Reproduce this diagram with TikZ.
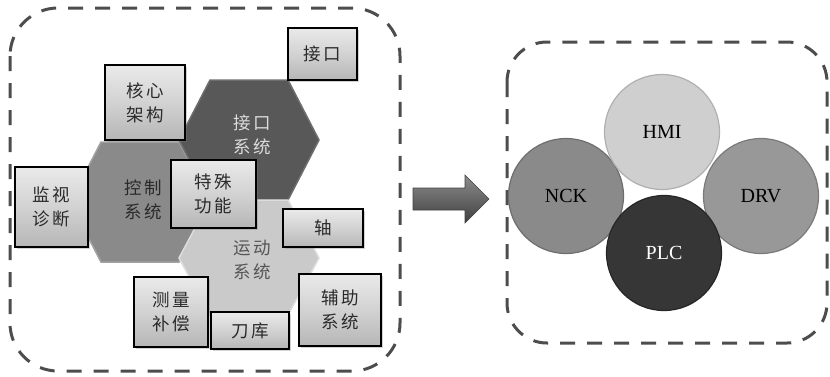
\documentclass[tikz,border=0pt]{standalone}
\usepackage{fontspec}
\setmainfont{Liberation Serif}
\newfontfamily\cjk{Noto Sans CJK SC}[LetterSpace=14]
\usetikzlibrary{shadows}
\definecolor{dashc}{HTML}{4D4D4D}
\definecolor{hexdark}{HTML}{585858}
\definecolor{hexdarkedge}{HTML}{6E6E6E}
\definecolor{hexmid}{HTML}{8A8A8A}
\definecolor{hexmidedge}{HTML}{A2A2A2}
\definecolor{hexlight}{HTML}{CACACA}
\definecolor{hexlightedge}{HTML}{DDDDDD}
\definecolor{boxtop}{HTML}{EAEAEA}
\definecolor{boxmid}{HTML}{D2D2D2}
\definecolor{boxbot}{HTML}{B6B6B6}
\definecolor{txtdark}{HTML}{2A2A2A}
\definecolor{txtlight}{HTML}{DCDCDC}
\definecolor{chmi}{HTML}{CFCFCF}
\definecolor{cnck}{HTML}{8A8A8A}
\definecolor{cdrv}{HTML}{989898}
\definecolor{cplc}{HTML}{363636}
\definecolor{arrtop}{HTML}{8C8C8C}
\definecolor{arrbot}{HTML}{404040}
\tikzset{
  dashframe/.style={draw=dashc, line width=3pt, dash pattern=on 15pt off 12pt},
  cbox/.style={draw=black, line width=1.4pt, top color=boxtop, bottom color=boxbot,
    middle color=boxmid, inner sep=0pt, align=center, text=txtdark,
    font=\cjk\fontsize{17.5}{24}\selectfont,
    drop shadow={shadow xshift=1.5pt, shadow yshift=-1.5pt, opacity=0.35}},
  hexA/.style={fill=hexdark, draw=hexdarkedge, line width=1.5pt},
  hexB/.style={fill=hexmid, draw=hexmidedge, line width=1.5pt},
  hexC/.style={fill=hexlight, draw=hexlightedge, line width=1.5pt},
  hextext/.style={align=center, inner sep=0pt, font=\cjk\fontsize{17.5}{24}\selectfont},
  ball/.style={circle, inner sep=0pt, minimum size=115pt, line width=1.2pt,
    font=\fontsize{20}{24}\selectfont},
}
\begin{document}
\begin{tikzpicture}[x=1pt, y=-1pt]
\useasboundingbox (0,0) rectangle (830,376);
% frames
\draw[dashframe, rounded corners=48pt] (10,8) rectangle (400,371);
\draw[dashframe, rounded corners=40pt] (507,42) rectangle (827,343);
% hexagons
\draw[hexB] (140,202) ++(-70,0) -- ++(31,-60) -- ++(78,0) -- ++(31,60) -- ++(-31,60) -- ++(-78,0) -- cycle;
\draw[hexA] (249,140) ++(-70,0) -- ++(31,-60) -- ++(78,0) -- ++(31,60) -- ++(-31,60) -- ++(-78,0) -- cycle;
\draw[hexC] (249,258) ++(-70,0) -- ++(31,-58) -- ++(78,0) -- ++(31,58) -- ++(-31,57) -- ++(-78,0) -- cycle;
\node[hextext, text=txtlight] (jkxt) at (252,135) {接口\\系统};
\node[hextext, text=txtdark] (kzxt) at (143,200) {控制\\系统};
\node[hextext, text=txtdark!80] (ydxt) at (252,260) {运动\\系统};
% boxes
\node[cbox, minimum width=69pt, minimum height=52pt] (jk) at (322.5,54) {接口};
\node[cbox, minimum width=80pt, minimum height=75pt] (hx) at (145,102.5) {核心\\架构};
\node[cbox, minimum width=73pt, minimum height=80pt] (js) at (51.5,207) {监视\\诊断};
\node[cbox, minimum width=85pt, minimum height=68pt] (ts) at (213.5,194) {特殊\\功能};
\node[cbox, minimum width=80pt, minimum height=38pt] (zh) at (323,228) {轴};
\node[cbox, minimum width=74pt, minimum height=70pt] (cl) at (171,312) {测量\\补偿};
\node[cbox, minimum width=78pt, minimum height=37pt] (dk) at (250,330.5) {刀库};
\node[cbox, minimum width=82pt, minimum height=72pt] (fz) at (340,310) {辅助\\系统};
% arrow
\path[top color=arrtop, bottom color=arrbot, draw=arrbot, line width=0.6pt]
  (413,188) -- (465,188) -- (465,175) -- (489,199) -- (465,223) -- (465,210) -- (413,210) -- cycle;
% circles
\node[ball, fill=cnck, draw=cnck!80!black] (nck) at (566,196) {NCK};
\node[ball, fill=cdrv, draw=cdrv!80!black] (drv) at (761,196) {DRV};
\node[ball, fill=chmi, draw=chmi!85!black] (hmi) at (662,132) {HMI};
\node[ball, fill=cplc, draw=cplc!70!black, text=white] (plc) at (664,253) {PLC};
\end{tikzpicture}
\end{document}
